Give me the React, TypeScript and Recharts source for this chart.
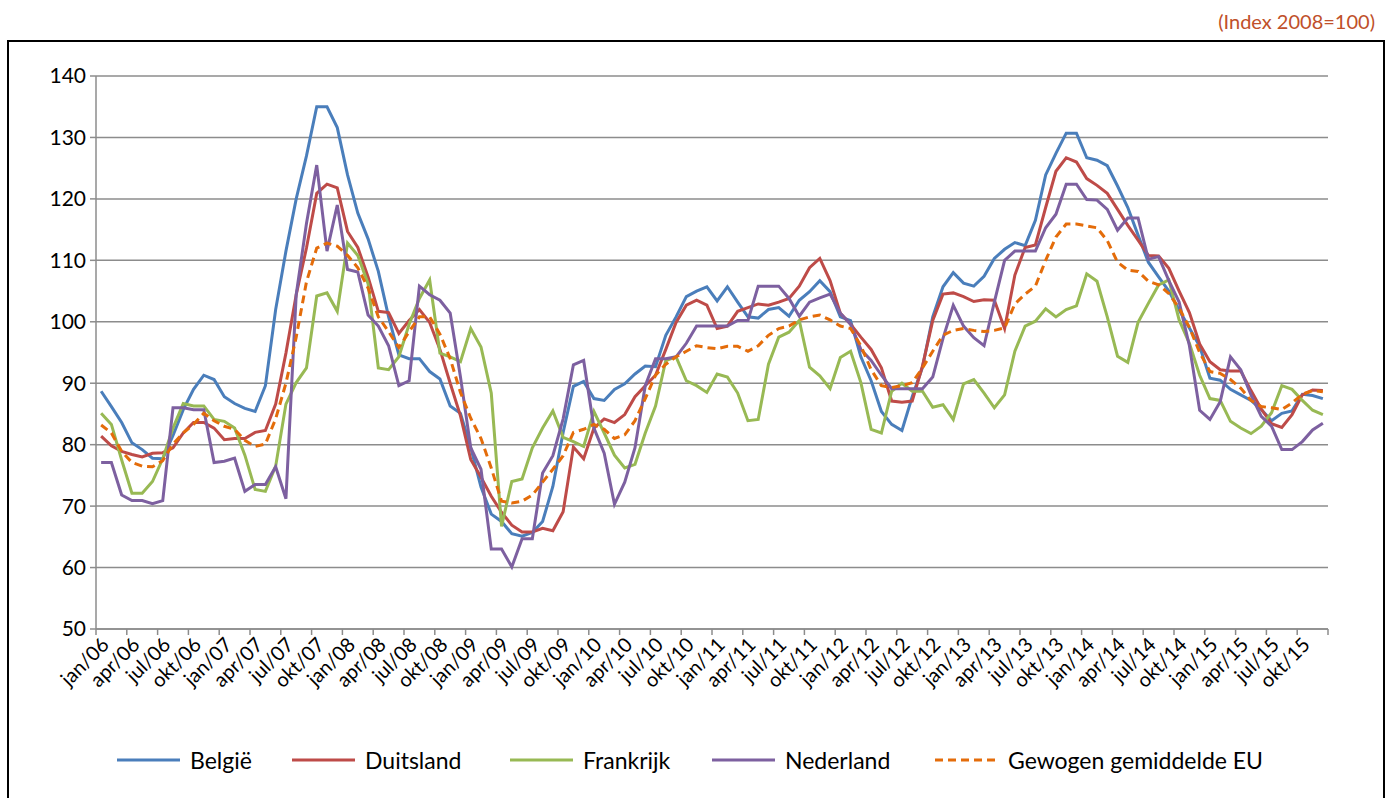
import { CartesianGrid, Line, LineChart, XAxis, YAxis } from "recharts";

// Month and year parts of the category labels (jan/06 ... dec/15).
const MONTHS = ["jan", "feb", "mrt", "apr", "mei", "jun", "jul", "aug", "sep", "okt", "nov", "dec"];
const YEARS = ["06", "07", "08", "09", "10", "11", "12", "13", "14", "15"];

const Y_TICKS = [50, 60, 70, 80, 90, 100, 110, 120, 130, 140];

// Monthly index values (2008=100), jan/06 .. dec/15.
const BELGIE = [
  88.7, 86.2, 83.6, 80.3, 79.2, 77.8, 77.7, 81.5, 85.7, 89.0, 91.3, 90.6,
  87.8, 86.7, 85.9, 85.4, 89.6, 102.0, 111.5, 120.0, 127.0, 135.0, 135.0, 131.6,
  123.9, 117.7, 113.5, 108.2, 100.8, 94.6, 94.0, 94.0, 91.9, 90.7, 86.3, 85.1,
  79.5, 73.1, 68.7, 67.5, 65.5, 65.1, 65.7, 67.5, 73.2, 82.0, 89.5, 90.3,
  87.5, 87.2, 89.0, 89.9, 91.5, 92.8, 92.7, 97.8, 100.8, 104.1, 105.0, 105.7,
  103.4, 105.7, 103.2, 100.8, 100.6, 102.0, 102.3, 100.9, 103.5, 104.9, 106.7, 104.9,
  100.8, 100.2, 94.3, 90.4, 85.4, 83.3, 82.3, 87.8, 92.6, 100.8, 105.7, 108.0,
  106.3, 105.8, 107.4, 110.3, 111.8, 112.9, 112.4, 116.5, 123.9, 127.4, 130.7, 130.7,
  126.7, 126.3, 125.4, 122.1, 118.6, 114.1, 109.7, 107.3, 105.0, 101.9, 99.0, 96.0,
  90.8, 90.5, 89.0, 88.1, 87.2, 85.7, 83.9, 85.1, 85.5, 88.2, 88.0, 87.5,
];

const DUITSLAND = [
  81.4, 79.8, 78.9, 78.4, 78.0, 78.6, 78.7, 79.5, 81.9, 83.6, 83.6, 82.7,
  80.8, 81.0, 81.0, 82.0, 82.3, 86.6, 94.9, 104.4, 112.0, 120.9, 122.4, 121.8,
  114.7, 112.1, 107.3, 101.7, 101.5, 98.1, 100.2, 102.0, 99.9, 95.5, 90.0, 84.7,
  77.6, 74.7, 71.6, 69.0, 66.9, 65.8, 65.8, 66.4, 66.0, 69.1, 79.6, 77.7,
  82.7, 84.2, 83.6, 84.9, 87.8, 89.6, 91.3, 95.5, 99.9, 102.7, 103.5, 102.7,
  98.9, 99.3, 101.7, 102.3, 102.9, 102.7, 103.2, 103.8, 105.8, 108.8, 110.3, 106.7,
  101.4, 99.6, 97.5, 95.5, 92.5, 87.1, 86.9, 87.1, 92.8, 100.2, 104.5, 104.7,
  104.1, 103.3, 103.6, 103.5, 98.9, 107.6, 112.1, 112.5, 118.6, 124.5, 126.7, 126.0,
  123.3, 122.2, 120.9, 118.3, 115.7, 113.3, 110.8, 110.7, 108.7, 105.0, 101.5, 96.4,
  93.5, 92.2, 92.0, 92.0, 88.8, 85.8, 83.4, 82.8, 84.9, 88.1, 88.9, 88.8,
];

const FRANKRIJK = [
  85.1, 83.3, 77.5, 72.1, 72.1, 74.0, 77.7, 82.7, 86.7, 86.3, 86.3, 84.1,
  83.8, 82.7, 78.3, 72.7, 72.4, 76.5, 86.6, 90.1, 92.5, 104.2, 104.7, 101.7,
  112.8, 110.8, 106.2, 92.5, 92.2, 94.3, 99.6, 103.8, 106.8, 94.9, 94.3, 93.5,
  98.9, 95.9, 88.4, 66.7, 74.0, 74.4, 79.5, 82.7, 85.5, 81.2, 80.5, 79.7,
  85.4, 81.9, 78.3, 76.2, 76.8, 81.9, 86.3, 93.7, 94.3, 90.4, 89.6, 88.5,
  91.5, 91.0, 88.4, 83.9, 84.1, 93.1, 97.5, 98.3, 100.2, 92.6, 91.2, 89.1,
  94.2, 95.2, 90.1, 82.5, 81.9, 88.7, 90.0, 88.7, 88.7, 86.1, 86.5, 84.1,
  89.9, 90.6, 88.4, 86.0, 88.1, 95.2, 99.3, 100.1, 102.1, 100.8, 102.0, 102.6,
  107.8, 106.6, 100.8, 94.4, 93.4, 99.9, 103.0, 106.0, 106.8, 100.3, 96.5, 91.3,
  87.5, 87.2, 83.8, 82.7, 81.8, 83.0, 85.2, 89.6, 89.0, 87.2, 85.6, 84.9,
];

const NEDERLAND = [
  77.1, 77.1, 71.8, 70.9, 70.9, 70.4, 70.9, 86.0, 86.0, 85.7, 85.7, 77.1,
  77.3, 77.8, 72.4, 73.5, 73.5, 76.4, 71.2, 104.4, 116.0, 125.5, 111.5, 119.0,
  108.5, 108.1, 101.1, 99.3, 96.1, 89.6, 90.4, 105.8, 104.4, 103.5, 101.4, 91.0,
  79.5, 76.0, 63.0, 63.0, 60.1, 64.7, 64.7, 75.4, 78.2, 84.2, 93.0, 93.7,
  82.7, 78.6, 70.3, 73.9, 79.5, 89.6, 94.0, 94.0, 94.3, 96.5, 99.3, 99.3,
  99.3, 99.3, 100.2, 100.2, 105.8, 105.8, 105.8, 103.8, 100.9, 103.2, 103.9, 104.5,
  101.4, 99.6, 95.5, 93.7, 91.3, 89.1, 89.1, 89.1, 89.1, 91.0, 97.3, 102.7,
  99.3, 97.4, 96.1, 103.2, 110.0, 111.5, 111.5, 111.5, 115.3, 117.5, 122.4, 122.4,
  119.9, 119.8, 118.3, 114.9, 116.9, 116.9, 110.2, 110.6, 106.7, 103.2, 96.1, 85.6,
  84.1, 87.0, 94.3, 92.2, 88.1, 84.6, 83.0, 79.2, 79.2, 80.5, 82.4, 83.5,
];

const EU_GEMIDDELDE = [
  83.2, 81.9, 78.9, 77.1, 76.5, 76.4, 77.4, 80.1, 81.9, 83.3, 85.1, 83.9,
  83.0, 82.5, 80.7, 79.7, 80.1, 84.2, 90.0, 97.5, 106.5, 112.0, 112.8, 112.3,
  110.8, 108.8, 105.5, 100.8, 98.4, 95.8, 98.4, 100.8, 100.8, 98.0, 94.0, 88.5,
  84.3, 81.0, 76.2, 70.8, 70.5, 70.8, 71.8, 73.9, 76.0, 78.2, 82.0, 82.5,
  83.3, 82.5, 81.0, 81.6, 83.9, 87.5, 91.3, 93.1, 94.3, 95.2, 96.1, 95.8,
  95.6, 96.0, 96.0, 95.2, 96.1, 97.8, 98.9, 99.3, 100.3, 100.8, 101.1, 100.3,
  99.3, 98.9, 96.1, 92.2, 89.6, 89.3, 89.6, 90.1, 92.5, 95.2, 97.8, 98.6,
  98.9, 98.6, 98.4, 98.6, 99.0, 102.9, 104.5, 105.8, 110.0, 113.8, 115.9, 115.9,
  115.6, 115.3, 113.2, 109.7, 108.4, 108.2, 106.6, 106.0, 104.6, 102.2, 99.1, 95.0,
  91.9, 91.6, 90.6, 89.2, 87.2, 86.2, 86.0, 85.7, 86.8, 88.2, 88.8, 88.6,
];

// legendX: where each legend entry starts, as in the original layout
const SERIES = [
  { key: "belgie", name: "België", color: "#4A7EBB", dash: undefined, legendX: 117 },
  { key: "duitsland", name: "Duitsland", color: "#BE4B48", dash: undefined, legendX: 292 },
  { key: "frankrijk", name: "Frankrijk", color: "#98B954", dash: undefined, legendX: 510 },
  { key: "nederland", name: "Nederland", color: "#7D60A0", dash: undefined, legendX: 712 },
  { key: "eu", name: "Gewogen gemiddelde EU", color: "#E46C0A", dash: "8 5", legendX: 935 },
];

const data = BELGIE.map((v, i) => ({
  i,
  label: `${MONTHS[i % 12]}/${YEARS[Math.floor(i / 12)]}`,
  belgie: v,
  duitsland: DUITSLAND[i],
  frankrijk: FRANKRIJK[i],
  nederland: NEDERLAND[i],
  eu: EU_GEMIDDELDE[i],
}));

// Excel puts the category ticks between the months; a label every 3 months.
const X_TICKS = Array.from({ length: data.length / 3 + 1 }, (_, k) => k * 3 - 0.5);

const FONT = "Lato, 'Open Sans', sans-serif";
const GRID = "#8C8C8C";
const HALF_CAT = 5.13;

function MonthTick(props: any) {
  const { x, y, payload } = props;
  const row = data[payload.value + 0.5];
  if (!row) return null;
  const ax = x + HALF_CAT + 9;
  const ay = y + 9;
  return (
    <text
      x={ax}
      y={ay}
      transform={`rotate(-45 ${ax} ${ay})`}
      textAnchor="end"
      fontSize={20}
      fontFamily={FONT}
      fill="#000"
    >
      {row.label}
    </text>
  );
}

function LegendSwatch({ color, dash }: { color: string; dash?: string }) {
  return (
    <svg width={63} height={10} style={{ marginRight: 10 }}>
      <line x1={0} y1={5} x2={63} y2={5} stroke={color} strokeWidth={3} strokeDasharray={dash} />
    </svg>
  );
}

export default function App() {
  return (
    <div style={{ position: "fixed", left: 0, top: 0, width: 1387, height: 798, background: "#fff", overflow: "hidden" }}>
      <div
        style={{
          position: "absolute",
          right: 12,
          top: 9,
          fontFamily: FONT,
          fontSize: 20,
          color: "#C0502A",
        }}
      >
        (Index 2008=100)
      </div>
      <div
        style={{
          position: "absolute",
          left: 7,
          top: 40,
          width: 1374,
          height: 800,
          border: "2px solid #000",
        }}
      />
      <div style={{ position: "absolute", left: 0, top: 0 }}>
        <LineChart width={1387} height={798} data={data} margin={{ top: 76, right: 59, bottom: 0, left: 20 }}>
          <CartesianGrid vertical={false} stroke={GRID} strokeWidth={1.5} />
          <XAxis
            dataKey="i"
            type="number"
            domain={[-0.5, 119.5]}
            allowDataOverflow
            ticks={X_TICKS}
            interval={0}
            height={169}
            tick={<MonthTick />}
            tickSize={6}
            tickLine={{ stroke: GRID, strokeWidth: 1.5 }}
            axisLine={{ stroke: GRID, strokeWidth: 1.5 }}
          />
          <YAxis
            domain={[50, 140]}
            ticks={Y_TICKS}
            width={76}
            interval={0}
            tickSize={6}
            tickMargin={4}
            tick={{ fontSize: 21, fontFamily: FONT, fill: "#000" }}
            tickLine={{ stroke: GRID, strokeWidth: 1.5 }}
            axisLine={{ stroke: GRID, strokeWidth: 1.5 }}
          />
          {SERIES.map((s) => (
            <Line
              key={s.key}
              dataKey={s.key}
              name={s.name}
              type="linear"
              stroke={s.color}
              strokeWidth={3}
              strokeDasharray={s.dash}
              dot={false}
              activeDot={false}
              isAnimationActive={false}
            />
          ))}
        </LineChart>
      </div>
      {SERIES.map((s) => (
        <div
          key={s.key}
          style={{
            position: "absolute",
            left: s.legendX,
            top: 746,
            display: "flex",
            alignItems: "center",
            fontFamily: FONT,
            fontSize: 23,
            color: "#000",
            whiteSpace: "nowrap",
          }}
        >
          <LegendSwatch color={s.color} dash={s.dash} />
          <span>{s.name}</span>
        </div>
      ))}
    </div>
  );
}
